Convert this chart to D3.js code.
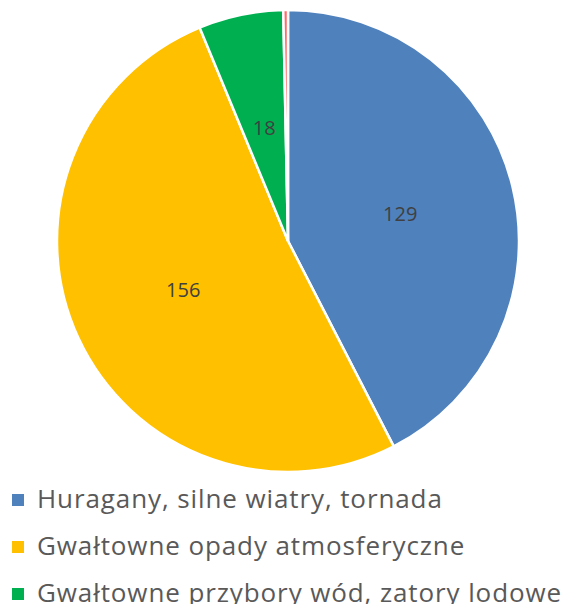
<!DOCTYPE html>
<html><head><meta charset="utf-8">
<script src="https://cdn.jsdelivr.net/npm/d3@7"></script>
<style>body{margin:0;background:#fff}</style>
</head><body>
<svg id="c" width="575" height="604"></svg>
<script>
const categories = ["Huragany, silne wiatry, tornada","Gwałtowne opady atmosferyczne","Gwałtowne przybory wód, zatory lodowe",""];
const values = [129,156,18,1];
const colors = ["#4F81BD","#FFC000","#00B050","#FF6B6B"];
const legendCount = 3;

const svg = d3.select("#c");
const cx = 288, cy = 241, r = 231;
const pie = d3.pie().sort(null).value(d=>d)(values);
const arc = d3.arc().innerRadius(0).outerRadius(r);
const g = svg.append("g").attr("transform",`translate(${cx},${cy})`);
g.selectAll("path").data(pie).join("path")
  .attr("d",arc).attr("fill",(d,i)=>colors[i])
  .attr("stroke","#fff").attr("stroke-width",2.5).attr("stroke-linejoin","round");
const labelArc = d3.arc().innerRadius(r*0.5).outerRadius(r*0.5);
g.selectAll("text").data(pie.filter(d=>d.value>=10)).join("text")
  .attr("transform",d=>{const c=labelArc.centroid(d);return `translate(${c[0]},${c[1]})`;})
  .attr("text-anchor","middle").attr("dy","0.36em")
  .attr("font-family","Open Sans").attr("font-size",20).attr("fill","#404040")
  .text(d=>d.value);

const lg = svg.append("g");
const items = lg.selectAll("g").data(categories.slice(0,legendCount)).join("g")
  .attr("transform",(d,i)=>`translate(12,${500+i*47})`);
items.append("rect").attr("x",0).attr("y",-6).attr("width",12).attr("height",12).attr("fill",(d,i)=>colors[i]);
items.append("text").attr("x",25).attr("y",8).attr("font-family","Open Sans").attr("font-size",26)
  .attr("letter-spacing",0.9).attr("fill","#595959").text(d=>d);
</script>
</body></html>
